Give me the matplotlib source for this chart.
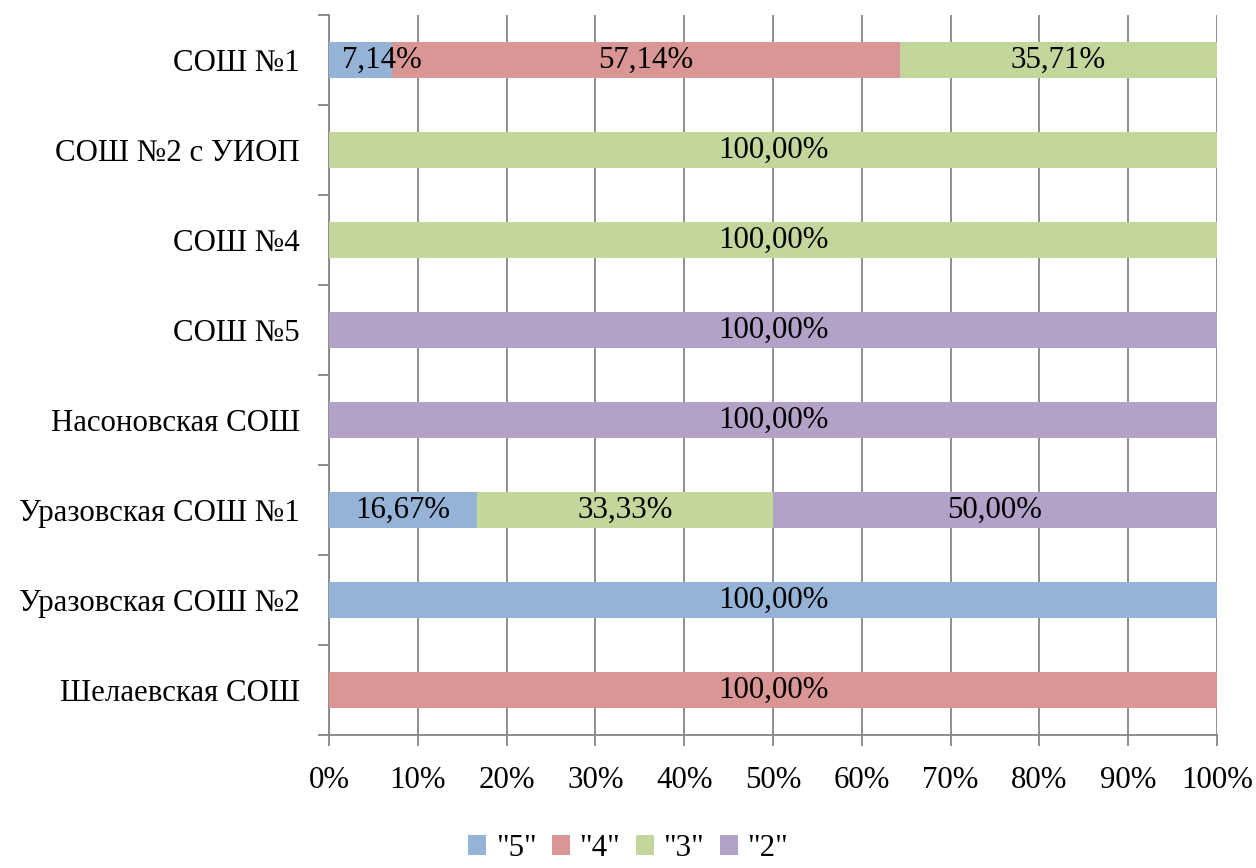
import matplotlib.pyplot as plt
import numpy as np

plt.rcParams['font.family'] = ['Liberation Serif', 'DejaVu Serif']

schools = ['СОШ №1', 'СОШ №2 с УИОП', 'СОШ №4', 'СОШ №5', 'Насоновская СОШ',
           'Уразовская СОШ №1', 'Уразовская СОШ №2', 'Шелаевская СОШ']
grades = ['"5"', '"4"', '"3"', '"2"']
g5 = [7.14, 0, 0, 0, 0, 16.67, 100, 0]
g4 = [57.14, 0, 0, 0, 0, 0, 0, 100]
g3 = [35.71, 100, 100, 0, 0, 33.33, 0, 0]
g2 = [0, 0, 0, 100, 100, 50.00, 0, 0]
colors = ['#95B3D7', '#D99694', '#C3D69B', '#B3A2C7']

fs = 22.2
fig = plt.figure(figsize=(12.56, 8.68), dpi=100)
ax = fig.add_axes([329 / 1256, 1 - 735 / 868, 888 / 1256, 720 / 868])

y = np.arange(len(schools))
left = np.zeros(len(schools))
for name, vals, c in zip(grades, [g5, g4, g3, g2], colors):
    vals = np.array(vals)
    ax.barh(y, vals, left=left, height=0.4, color=c, label=name, zorder=3)
    for yi, v, l in zip(y, vals, left):
        if v <= 0:
            continue
        txt = f'{v:.2f}%'.replace('.', ',')
        if v < 10:
            ax.text(l + 1.5, yi, txt, ha='left', va='center', fontsize=fs, zorder=4)
        else:
            ax.text(l + v / 2, yi, txt, ha='center', va='center', fontsize=fs, zorder=4)
    left += vals

ax.set_xlim(0, 100)
ax.set_ylim(len(schools) - 0.5, -0.5)
ax.set_xticks(np.arange(0, 101, 10))
ax.set_xticklabels([f'{v}%' for v in range(0, 101, 10)])
ax.set_yticks(y)
ax.set_yticklabels(schools)
ax.set_yticks(np.arange(-0.5, len(schools)), minor=True)
ax.tick_params(axis='y', which='major', length=0, labelsize=fs, pad=21)
ax.tick_params(axis='y', which='minor', length=8, width=1.3, color='#868686')
ax.tick_params(axis='x', length=8, width=1.3, color='#868686', labelsize=fs, pad=14)
ax.grid(axis='x', color='#868686', lw=1.3, zorder=1)

for s in ['top', 'right']:
    ax.spines[s].set_visible(False)
for s in ['left', 'bottom']:
    ax.spines[s].set_color('#868686')
    ax.spines[s].set_linewidth(1.3)

fig.legend(loc='lower center', bbox_to_anchor=(0.5, -0.026), ncol=4, frameon=False,
           fontsize=fs, handlelength=0.6, handleheight=0.6, handletextpad=0.3,
           columnspacing=0.5)

fig.savefig('out.png', dpi=100)
